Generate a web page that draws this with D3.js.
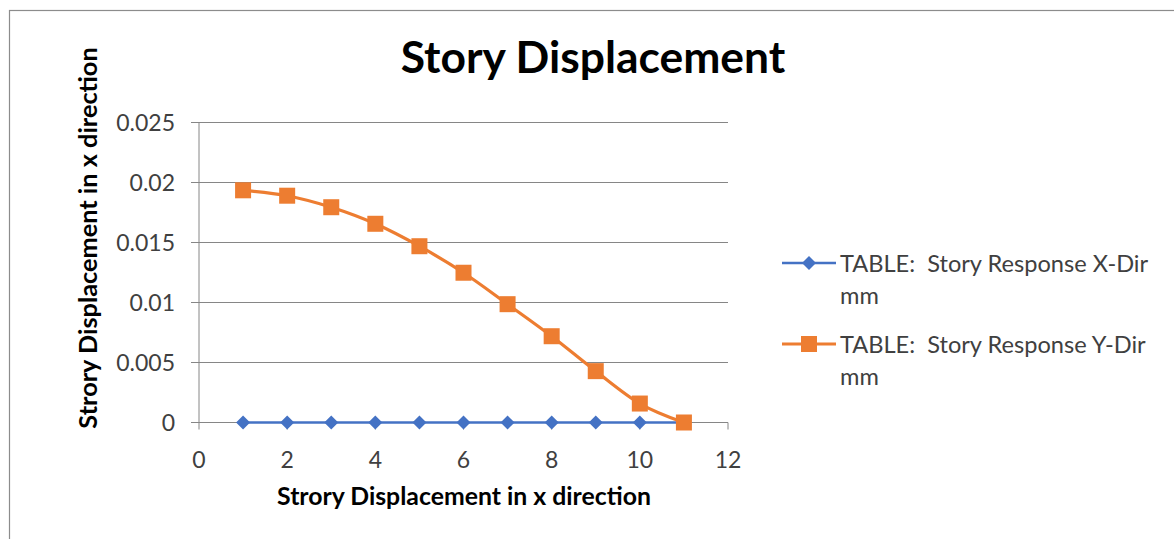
<!DOCTYPE html>
<html>
<head>
<meta charset="utf-8">
<script src="https://cdn.jsdelivr.net/npm/d3@7"></script>
<style>
  body { margin: 0; background: #fff; }
  svg { display: block; font-family: Lato, "Open Sans", sans-serif; }
</style>
</head>
<body>
<svg id="chart" width="1174" height="539"></svg>
<script>
// chart data
const stories = [1, 2, 3, 4, 5, 6, 7, 8, 9, 10, 11];
const xDirValues = [0, 0, 0, 0, 0, 0, 0, 0, 0, 0, 0];
const yDirValues = [0.01935, 0.0189, 0.01794, 0.01656, 0.01469, 0.01248, 0.00986, 0.00719, 0.00428, 0.00158, 0];
const xTicks = [0, 2, 4, 6, 8, 10, 12];
const yTicks = [0, 0.005, 0.01, 0.015, 0.02, 0.025];
const seriesNames = ['TABLE:  Story Response X-Dir', 'TABLE:  Story Response Y-Dir'];

const svg = d3.select('#chart');
const axisColor = '#868686';
const textColor = '#404040';

// outer frame of the chart (runs past the right and bottom edges)
svg.append('rect')
    .attr('x', 9.5).attr('y', 10.5)
    .attr('width', 1200).attr('height', 600)
    .attr('fill', 'none')
    .attr('stroke', '#8c8c8c')
    .attr('stroke-width', 1.2);

const x = d3.scaleLinear().domain([0, 12]).range([199, 728]);
const y = d3.scaleLinear().domain([0, 0.025]).range([422.5, 122.5]);

// gridlines
svg.append('g')
    .selectAll('line')
    .data(yTicks)
    .enter()
    .append('line')
    .attr('x1', 191).attr('x2', x(12))
    .attr('y1', d => y(d)).attr('y2', d => y(d))
    .attr('stroke', axisColor)
    .attr('stroke-width', 1);

// y axis line
svg.append('line')
    .attr('x1', x(0)).attr('x2', x(0))
    .attr('y1', y(0.025)).attr('y2', y(0))
    .attr('stroke', axisColor);

// x axis ticks
svg.append('g')
    .selectAll('line')
    .data(xTicks)
    .enter()
    .append('line')
    .attr('x1', d => x(d)).attr('x2', d => x(d))
    .attr('y1', y(0)).attr('y2', y(0) + 7)
    .attr('stroke', axisColor);

// tick labels
svg.append('g')
    .selectAll('text')
    .data(yTicks)
    .enter()
    .append('text')
    .attr('x', 175)
    .attr('y', d => y(d) + 8.5)
    .attr('text-anchor', 'end')
    .attr('font-size', '23px')
    .attr('fill', textColor)
    .text(d => d === 0 ? '0' : d3.format('.3~f')(d));

svg.append('g')
    .selectAll('text')
    .data(xTicks)
    .enter()
    .append('text')
    .attr('x', d => x(d))
    .attr('y', 468)
    .attr('text-anchor', 'middle')
    .attr('font-size', '23px')
    .attr('fill', textColor)
    .text(d => d);

// title and axis titles
svg.append('text')
    .attr('x', 593).attr('y', 73)
    .attr('text-anchor', 'middle')
    .attr('font-size', '44.4px')
    .attr('font-weight', 'bold')
    .attr('fill', '#000')
    .text('Story Displacement');

svg.append('text')
    .attr('x', 464).attr('y', 505)
    .attr('text-anchor', 'middle')
    .attr('font-size', '24.8px')
    .attr('font-weight', 'bold')
    .attr('fill', '#000')
    .text('Strory Displacement in x direction');

svg.append('text')
    .attr('transform', 'translate(97, 238) rotate(-90)')
    .attr('text-anchor', 'middle')
    .attr('font-size', '25.3px')
    .attr('font-weight', 'bold')
    .attr('fill', '#000')
    .text('Strory Displacement in x direction');

// series
const series = [
    { name: seriesNames[0], values: xDirValues, color: '#4472C4', marker: 'diamond', width: 2.5 },
    { name: seriesNames[1], values: yDirValues, color: '#ED7D31', marker: 'square', width: 3.2 }
];

const line = d3.line()
    .x(d => x(d[0]))
    .y(d => y(d[1]))
    .curve(d3.curveCatmullRom.alpha(0));

function drawMarker(g, s) {
    if (s.marker === 'square') {
        g.append('rect')
            .attr('x', -8).attr('y', -8)
            .attr('width', 16).attr('height', 16)
            .attr('fill', s.color);
    } else {
        g.append('path')
            .attr('d', 'M0,-7L7,0L0,7L-7,0Z')
            .attr('fill', s.color);
    }
}

series.forEach(s => {
    const pts = stories.map((st, i) => [st, s.values[i]]);
    svg.append('path')
        .datum(pts)
        .attr('d', line)
        .attr('fill', 'none')
        .attr('stroke', s.color)
        .attr('stroke-width', s.width)
        .attr('stroke-linejoin', 'round');

    svg.append('g')
        .selectAll('g')
        .data(pts)
        .enter()
        .append('g')
        .attr('transform', d => `translate(${x(d[0])}, ${y(d[1])})`)
        .each(function () { drawMarker(d3.select(this), s); });
});

// legend
const legend = svg.append('g');
series.forEach((s, i) => {
    const ly = 263 + i * 81;
    const item = legend.append('g').attr('transform', `translate(0, ${ly})`);
    item.append('line')
        .attr('x1', 782).attr('x2', 836)
        .attr('y1', 0).attr('y2', 0)
        .attr('stroke', s.color)
        .attr('stroke-width', s.width);
    drawMarker(item.append('g').attr('transform', 'translate(809, 0)'), s);
    const t = item.append('text')
        .attr('x', 840).attr('y', 9)
        .attr('font-size', '23.6px')
        .attr('fill', textColor)
        .attr('xml:space', 'preserve');
    t.append('tspan').attr('x', 840).attr('dy', 0).text(s.name);
    t.append('tspan').attr('x', 840).attr('dy', 32).text('mm');
});
</script>
</body>
</html>
